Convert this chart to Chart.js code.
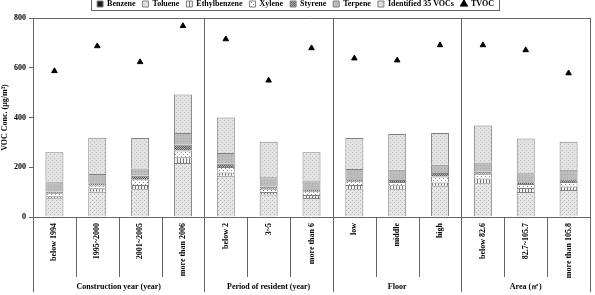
<!DOCTYPE html>
<html>
<head>
<meta charset="utf-8">
<script src="https://cdn.jsdelivr.net/npm/chart.js@4.4.1/dist/chart.umd.min.js"></script>
<style>
  html, body { margin: 0; padding: 0; background: #fff; }
</style>
</head>
<body>
<canvas id="voc" width="595" height="295"></canvas>
<script>
// categories, grouped along the x axis
const categories = ['below 1994', '1995~2000', '2001~2005', 'more than 2006',
  'below 2', '3~5', 'more than 6',
  'low', 'middle', 'high',
  'below 82.6', '82.7~105.7', 'more than 105.8'];
const groupLabels = ['Construction year (year)', 'Period of resident (year)', 'Floor', 'Area (㎡)'];
const groupSizes = [4, 3, 3, 3];

// stacked components, µg/m³
const benzene      = [3, 3, 3, 3, 3, 3, 3, 3, 3, 3, 3, 3, 3];
const toluene      = [72, 99, 109, 214, 163, 87, 73, 109, 109, 123, 133, 98, 106];
const ethylbenzene = [8, 14, 17, 23, 13, 11, 12, 17, 16, 13, 19, 16, 14];
const xylene       = [12, 11, 23, 27, 22, 13, 16, 15, 13, 24, 19, 16, 18];
const styrene      = [7, 9, 14, 24, 13, 8, 8, 8, 8, 14, 8, 7, 11];
const terpene      = [38, 37, 29, 47, 43, 38, 35, 41, 41, 33, 37, 36, 38];
const identified35 = [120, 146, 123, 154, 143, 143, 113, 125, 144, 128, 149, 140, 113];
const tvoc         = [587, 687, 623, 768, 715, 549, 679, 638, 630, 691, 691, 671, 578];

const yTicks = [0, 200, 400, 600, 800];

const SERIF = '"Liberation Serif", "Times New Roman", serif';
const LINE = '#666';

function pattern(bg, fg, w, h, dots) {
  const c = document.createElement('canvas');
  c.width = w; c.height = h;
  const g = c.getContext('2d');
  g.fillStyle = bg;
  g.fillRect(0, 0, w, h);
  g.fillStyle = fg;
  dots.forEach(([x, y, dw, dh]) => g.fillRect(x, y, dw, dh));
  return g.createPattern(c, 'repeat');
}

const fills = {
  benzene: '#1a1a1a',
  toluene: pattern('#e6e6e6', '#b8b8b8', 4, 4, [[0, 0, 1, 1], [2, 2, 1, 1]]),
  ethylbenzene: pattern('#f4f4f4', '#777', 3, 3, [[0, 0, 1, 3]]),
  xylene: pattern('#ffffff', '#8a8a8a', 4, 4, [[1, 0, 1, 1], [3, 2, 1, 1]]),
  styrene: pattern('#5c5c5c', '#b4b4b4', 2, 2, [[0, 0, 1, 1], [1, 1, 1, 1]]),
  terpene: pattern('#bdbdbd', '#a9a9a9', 3, 3, [[0, 0, 1, 1]]),
  identified35: pattern('#e2e2e2', '#c6c6c6', 4, 4, [[0, 0, 1, 1], [2, 2, 1, 1]])
};

function barSet(label, data, fill) {
  return {
    type: 'bar',
    label: label,
    data: data,
    backgroundColor: fill,
    borderColor: '#808080',
    borderWidth: 1,
    pointStyle: 'rect',
    stack: 'voc',
    order: 1,
    barPercentage: 0.42,
    categoryPercentage: 1
  };
}

// box round the legend, separators and group names under the x axis
const framePlugin = {
  id: 'frame',
  afterDraw(chart) {
    const ctx = chart.ctx;
    const area = chart.chartArea;
    const x = chart.scales.x;
    const half = (x.getPixelForValue(1) - x.getPixelForValue(0)) / 2;
    const edge = (i) => x.getPixelForValue(i) - half;

    ctx.save();
    ctx.strokeStyle = LINE;
    ctx.lineWidth = 1;

    // legend frame
    const boxes = chart.legend.legendHitBoxes;
    const l = Math.min(...boxes.map(b => b.left)) - 6;
    const r = Math.max(...boxes.map(b => b.left + b.width)) + 5;
    const b = Math.max(...boxes.map(b => b.top + b.height)) + 2.5;
    ctx.strokeRect(Math.round(l) + 0.5, -1.5, Math.round(r - l), Math.round(b) + 1);

    // top and bottom of the plot
    ctx.beginPath();
    ctx.moveTo(area.left, Math.round(area.top) + 0.5);
    ctx.lineTo(area.right, Math.round(area.top) + 0.5);
    ctx.moveTo(area.left, Math.round(area.bottom) + 0.5);
    ctx.lineTo(area.right, Math.round(area.bottom) + 0.5);
    ctx.stroke();

    const groupEdges = [0];
    groupSizes.forEach(n => groupEdges.push(groupEdges[groupEdges.length - 1] + n));

    ctx.beginPath();
    for (let i = 0; i <= categories.length; i++) {
      const px = Math.round(edge(i)) + 0.5;
      if (groupEdges.includes(i)) {
        ctx.moveTo(px, area.top);
        ctx.lineTo(px, chart.height - 3);
      } else {
        ctx.moveTo(px, area.bottom);
        ctx.lineTo(px, area.bottom + 60);
      }
    }
    ctx.stroke();

    ctx.fillStyle = '#000';
    ctx.font = 'bold 8px ' + SERIF;
    ctx.textAlign = 'center';
    ctx.textBaseline = 'middle';
    groupLabels.forEach((name, g) => {
      const cx = (edge(groupEdges[g]) + edge(groupEdges[g + 1])) / 2;
      ctx.fillText(name, cx, 287);
    });
    ctx.restore();
  }
};

const data = {
  labels: categories,
  datasets: [
    barSet('Benzene', benzene, fills.benzene),
    barSet('Toluene', toluene, fills.toluene),
    barSet('Ethylbenzene', ethylbenzene, fills.ethylbenzene),
    barSet('Xylene', xylene, fills.xylene),
    barSet('Styrene', styrene, fills.styrene),
    barSet('Terpene', terpene, fills.terpene),
    barSet('Identified 35 VOCs', identified35, fills.identified35),
    {
      type: 'line',
      label: 'TVOC',
      data: tvoc,
      showLine: false,
      pointStyle: 'triangle',
      pointRadius: 3.2,
      backgroundColor: '#000',
      borderColor: '#000',
      borderWidth: 1,
      stack: 'tvoc',
      order: 0
    }
  ]
};

new Chart(document.getElementById('voc'), {
  data: data,
  options: {
    responsive: false,
    animation: false,
    layout: { padding: { top: -7, right: 4, left: 0, bottom: 0 } },
    plugins: {
      tooltip: { enabled: false },
      legend: {
        position: 'top',
        labels: {
          usePointStyle: true,
          boxWidth: 6,
          boxHeight: 6,
          padding: 7,
          color: '#000',
          sort: (a, b) => a.datasetIndex - b.datasetIndex,
          font: { family: SERIF, size: 8, weight: 'bold' }
        }
      }
    },
    scales: {
      x: {
        stacked: true,
        grid: { display: false, drawTicks: false },
        border: { display: false },
        ticks: {
          autoSkip: false,
          minRotation: 90,
          maxRotation: 90,
          padding: 6,
          color: '#000',
          font: { family: SERIF, size: 8, weight: 'bold' }
        },
        afterFit: (s) => { s.height = 78; }
      },
      y: {
        stacked: true,
        min: yTicks[0],
        max: yTicks[yTicks.length - 1],
        afterBuildTicks: (s) => { s.ticks = yTicks.map(v => ({ value: v })); },
        grid: { drawOnChartArea: false, tickLength: 4, color: LINE },
        border: { display: true, color: LINE },
        ticks: {
          padding: 3,
          color: '#000',
          font: { family: SERIF, size: 8, weight: 'bold' }
        },
        title: {
          display: true,
          text: 'VOC Conc. (μg/m³)',
          color: '#000',
          padding: { top: 0, bottom: 2 },
          font: { family: SERIF, size: 8, weight: 'bold' }
        },
        afterFit: (s) => { s.width = 33; }
      }
    }
  },
  plugins: [framePlugin]
});
</script>
</body>
</html>
